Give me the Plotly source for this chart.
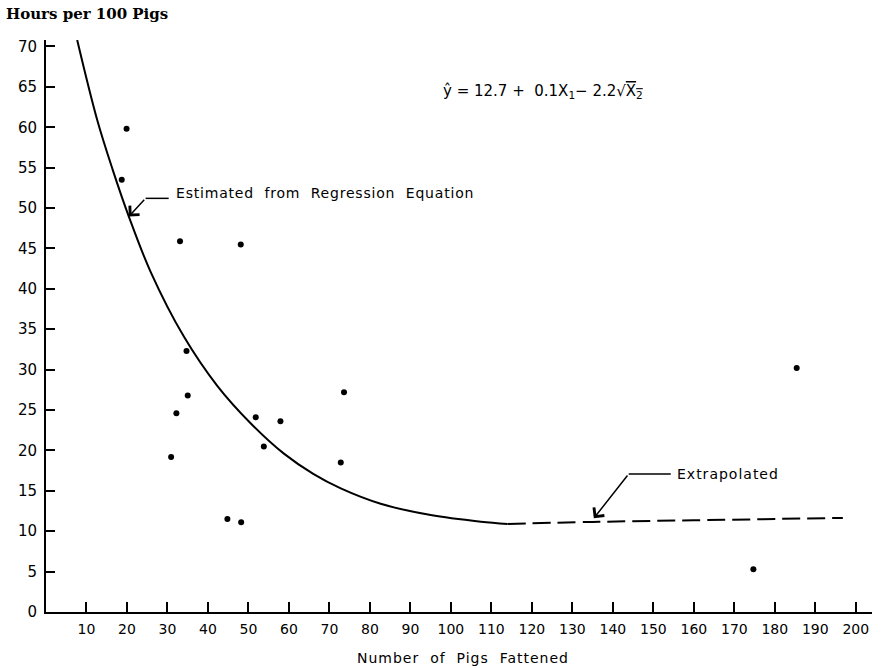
import plotly.graph_objects as go

# Observed farms: pigs fattened vs. labour hours per 100 pigs
pigs_fattened = [19.9, 18.7, 33.1, 48.1, 34.7, 35.0, 32.2, 30.9, 51.8, 57.9,
                 53.8, 73.6, 72.8, 44.8, 48.2, 174.7, 185.4]
hours_per_100 = [59.8, 53.5, 45.9, 45.5, 32.3, 26.8, 24.6, 19.2, 24.1, 23.6,
                 20.5, 27.2, 18.5, 11.5, 11.1, 5.3, 30.2]

# Curve estimated from the regression equation (within the data range)
est_x = [7.7, 12.65, 16.5, 20.46, 25.81, 34.05, 42.3, 50.53, 58.76,
         66.0, 72.8, 82.65, 95.0, 107.4, 113.96]
est_y = [70.8, 60.9, 54.7, 48.95, 42.14, 34.09, 28.0, 23.37, 19.6,
         17.1, 15.3, 13.4, 12.0, 11.18, 10.9]

# Extrapolated continuation of the curve
ext_x = [113.96, 135.0, 160.0, 196.8]
ext_y = [10.9, 11.15, 11.35, 11.65]

x_ticks = [10, 20, 30, 40, 50, 60, 70, 80, 90, 100,
           110, 120, 130, 140, 150, 160, 170, 180, 190, 200]
y_ticks = [0, 5, 10, 15, 20, 25, 30, 35, 40, 45, 50, 55, 60, 65, 70]

SANS = "DejaVu Sans"
SERIF = "DejaVu Serif"
INK = "black"


def spaced(s, px):
    return f"<span style='letter-spacing:{px}px'>{s}</span>"


fig = go.Figure()

fig.add_trace(go.Scatter(x=est_x, y=est_y, mode="lines",
                         line=dict(color=INK, width=2, shape="spline", smoothing=1.0),
                         hoverinfo="skip"))
fig.add_trace(go.Scatter(x=ext_x, y=ext_y, mode="lines",
                         line=dict(color=INK, width=2, dash="18px,7px", shape="spline"),
                         hoverinfo="skip"))
fig.add_trace(go.Scatter(x=pigs_fattened, y=hours_per_100, mode="markers",
                         marker=dict(color=INK, size=6)))

# Label for the fitted curve: elbow leader ending in an arrow on the curve
fig.add_shape(type="line", x0=24.6, y0=51.2, x1=30.3, y1=51.2,
              line=dict(color=INK, width=1.5))
fig.add_annotation(x=est_x[3], y=est_y[3], ax=24.6, ay=51.2,
                   axref="x", ayref="y", xref="x", yref="y", text="",
                   showarrow=True, arrowhead=4, arrowsize=1.7, arrowwidth=1.5,
                   arrowcolor=INK)
fig.add_annotation(x=31.6, y=51.9, xref="x", yref="y", xanchor="left",
                   yanchor="middle", showarrow=False,
                   text=spaced("Estimated  from  Regression  Equation", 0.8),
                   font=dict(family=SANS, size=14, color=INK))

# Label for the extrapolated part
fig.add_shape(type="line", x0=143.9, y0=17.09, x1=154.3, y1=17.09,
              line=dict(color=INK, width=1.5))
fig.add_annotation(x=135.3, y=11.6, ax=143.9, ay=17.09,
                   axref="x", ayref="y", xref="x", yref="y", text="",
                   showarrow=True, arrowhead=4, arrowsize=1.7, arrowwidth=1.5,
                   arrowcolor=INK)
fig.add_annotation(x=155.4, y=17.1, xref="x", yref="y", xanchor="left",
                   yanchor="middle", showarrow=False,
                   text=spaced("Extrapolated", 1.0),
                   font=dict(family=SANS, size=14, color=INK))

# Regression equation
fig.add_annotation(x=122.7, y=64.4, xref="x", yref="y", xanchor="center",
                   yanchor="middle", showarrow=False,
                   text="ŷ = 12.7 +  0.1X<sub>1</sub>− 2.2√<span style='text-decoration:overline'>X<sub>2</sub></span>",
                   font=dict(family=SANS, size=15, color=INK))

# Horizontal axis title
fig.add_annotation(x=0.505, y=-0.08, xref="paper", yref="paper",
                   xanchor="center", yanchor="middle", showarrow=False,
                   text=spaced("Number  of  Pigs  Fattened", 1.0),
                   font=dict(family=SANS, size=14, color=INK))

fig.update_layout(
    width=881, height=668,
    margin=dict(l=46, r=9, t=40, b=56),
    paper_bgcolor="white", plot_bgcolor="white",
    showlegend=False,
    title=dict(text="<b>Hours per 100 Pigs</b>", x=6 / 881, xanchor="left",
               y=1 - 14 / 668, yanchor="middle", yref="container",
               font=dict(family=SERIF, size=15, color=INK)),
    xaxis=dict(range=[0, 204], tickvals=x_ticks, ticks="inside", ticklen=10,
               tickwidth=1.5, tickcolor=INK, showline=True, linecolor=INK,
               linewidth=2, showgrid=False, zeroline=False,
               ticklabelstandoff=3,
               tickfont=dict(family=SANS, size=14, color=INK)),
    yaxis=dict(range=[0, 70.8], tickvals=y_ticks, ticks="inside", ticklen=9,
               tickwidth=1.5, tickcolor=INK, showline=True, linecolor=INK,
               linewidth=2, showgrid=False, zeroline=False,
               ticklabelstandoff=4,
               tickfont=dict(family=SANS, size=15, color=INK)),
)

fig.write_html("out.html")
